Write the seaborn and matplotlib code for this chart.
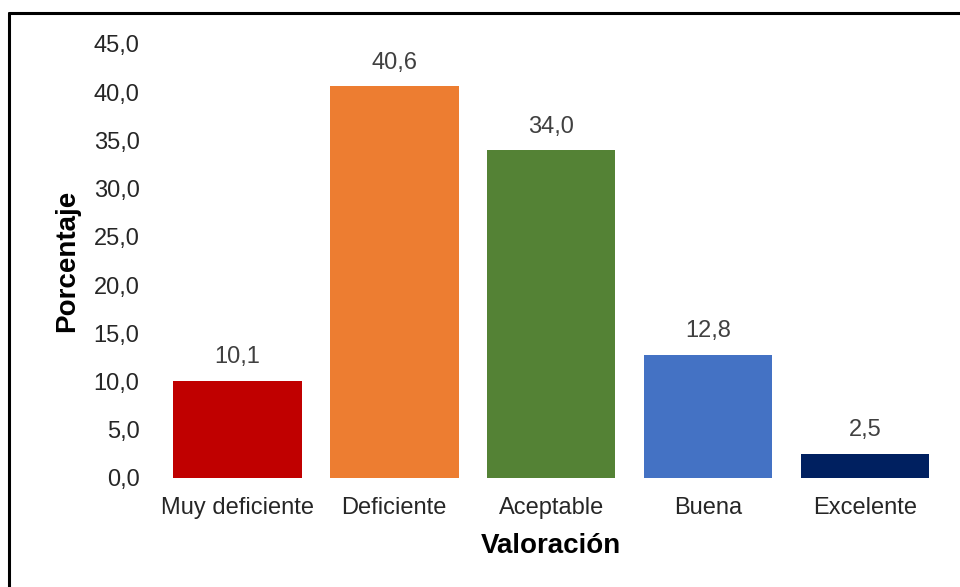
import matplotlib
matplotlib.use("Agg")
import matplotlib.pyplot as plt
from matplotlib.lines import Line2D
import pandas as pd
import seaborn as sns

# Daten
categorias = ["Muy deficiente", "Deficiente", "Aceptable", "Buena", "Excelente"]
porcentajes = [10.1, 40.6, 34.0, 12.8, 2.5]
colores = ["#C00000", "#ED7D31", "#548235", "#4472C4", "#002060"]
y_ticks = [0, 5, 10, 15, 20, 25, 30, 35, 40, 45]

sns.set_theme(style="white")
plt.rcParams["font.family"] = ["Liberation Sans", "DejaVu Sans"]

df = pd.DataFrame({"Valoración": categorias, "Porcentaje": porcentajes})

fig = plt.figure(figsize=(9.6, 5.87), dpi=100)
ax = fig.add_axes([0.1656, 0.1857, 0.817, 0.7394])

sns.barplot(data=df, x="Valoración", y="Porcentaje", hue="Valoración",
            palette=colores, legend=False, width=0.82, saturation=1,
            linewidth=0, ax=ax)

ax.set_ylim(0, 45)
ax.set_xlim(-0.5, len(categorias) - 0.5)
ax.set_yticks(y_ticks)
ax.set_yticklabels([f"{v:.1f}".replace(".", ",") for v in y_ticks])
for s in ax.spines.values():
    s.set_visible(False)
ax.tick_params(axis="y", labelsize=17, labelcolor="#262626", pad=14, length=0)
ax.tick_params(axis="x", labelsize=17, labelcolor="#262626", pad=14, length=0)

# Wertebeschriftungen
for i, v in enumerate(porcentajes):
    ax.annotate(f"{v:.1f}".replace(".", ","), (i, v), xytext=(0, 9),
                textcoords="offset points", ha="center", va="bottom",
                fontsize=17, color="#404040")

ax.set_xlabel("Valoración", fontsize=20, fontweight="bold", color="black", labelpad=10)
ax.set_ylabel("Porcentaje", fontsize=20, fontweight="bold", color="black", labelpad=10)

# Rahmen oben und links
fig.add_artist(Line2D([0.0094, 1.0], [1 - 12.5 / 587, 1 - 12.5 / 587], color="black", lw=2.2))
fig.add_artist(Line2D([0.0094, 0.0094], [0.0, 1 - 12.5 / 587], color="black", lw=2.2))

fig.savefig("out.png", dpi=100)
